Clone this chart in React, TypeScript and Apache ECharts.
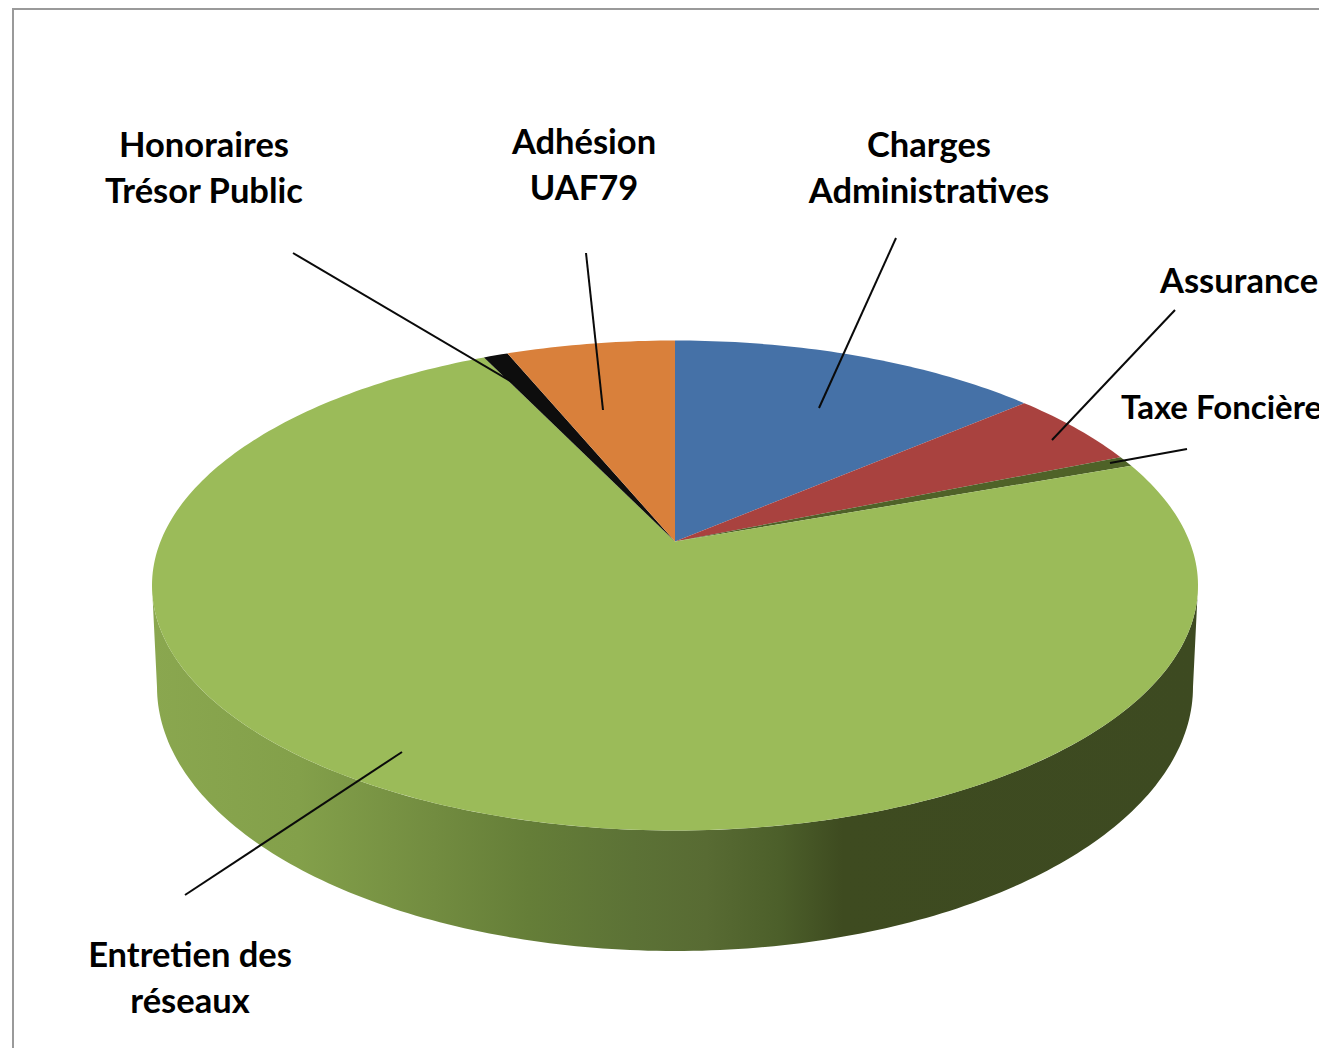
import React, { useEffect, useRef } from "react";
import * as echarts from "echarts";

const categories = ["Charges Administratives", "Assurance", "Taxe Foncière", "Entretien des réseaux", "Honoraires Trésor Public", "Adhésion UAF79"];
const shares = [13.7, 5.1, 0.7, 73.4, 0.9, 6.2];
const labelLines = [["Charges", "Administratives"], ["Assurance"], ["Taxe Foncière"], ["Entretien des", "réseaux"], ["Honoraires", "Trésor Public"], ["Adhésion", "UAF79"]];

const total = shares.reduce((a, b) => a + b, 0);
const sweep = (i: number) => {
  let s = 0;
  for (let k = 0; k < i; k++) s += shares[k];
  return [(s / total) * 360, ((s + shares[i]) / total) * 360];
};
const range = (a: number, b: number) => {
  const n = Math.max(2, Math.ceil(Math.abs(b - a)));
  return Array.from({ length: n + 1 }, (_, i) => a + ((b - a) * i) / n);
};

export default function App() {
  const ref = useRef<HTMLDivElement>(null);
  useEffect(() => {
    const chart = echarts.init(ref.current!, null, { renderer: "svg" });

    // styles and layout
    const sliceColors = ["#4571a7", "#a9423f", "#4f6228", "#9bbb59", "#0d0d0d", "#d9803b"];
    const wallStops: [number, string][] = [
      [0, "#8aa74f"], [0.14, "#83a04a"], [0.27, "#728c40"], [0.36, "#657e38"],
      [0.46, "#5c7236"], [0.53, "#586b33"], [0.6, "#4c5f2a"], [0.66, "#3e4b20"], [1, "#3d4a21"],
    ];
    const labelLayout = [
      { x: 929, y: 143.5, align: "center", size: 34.5 },
      { x: 1160, y: 279.5, align: "left", size: 34.5 },
      { x: 1121, y: 405.5, align: "left", size: 33 },
      { x: 190, y: 953.5, align: "center", size: 34.5 },
      { x: 204, y: 143.5, align: "center", size: 34.5 },
      { x: 584, y: 140.5, align: "center", size: 34.5 },
    ];
    const leaders = [
      [896, 238, 819, 408],
      [1175, 310, 1052, 440],
      [1187, 449, 1110, 463],
      [185, 895, 402, 752],
      [293, 253, 512, 382],
      [586, 253, 603, 410],
    ];

    // perspective disc
    const CX = 675, CY = 541.5, A = 514.5, B = 237.1, K = 0.1796;
    const project = (deg: number): number[] => {
      const t = (deg * Math.PI) / 180;
      const u = Math.sin(t), v = -Math.cos(t), w = 1 - K * v;
      return [CX + (A * u) / w, CY + (B * v) / w];
    };
    // lower rim of the disc
    const BCX = 675, BCY = 687, BRX = 518, BRY = 264;
    const rim = (deg: number): number[] => {
      const t = (deg * Math.PI) / 180;
      return [BCX + BRX * Math.sin(t), BCY - BRY * Math.cos(t)];
    };
    const TOP_FROM = 100.3, TOP_TO = 259.7;

    const graphics: any[] = [
      {
        type: "polyline",
        z: 1,
        shape: { points: [[13, 1048], [13, 9], [1319, 9]] },
        style: { stroke: "#9a9a9a", lineWidth: 2, fill: "none" },
      },
    ];
    leaders.forEach(([x1, y1, x2, y2]) =>
      graphics.push({
        type: "line",
        z: 50,
        shape: { x1, y1, x2, y2 },
        style: { stroke: "#0a0a0a", lineWidth: 2 },
      })
    );
    labelLines.forEach((lines, k) =>
      lines.forEach((text, i) =>
        graphics.push({
          type: "text",
          z: 60,
          x: labelLayout[k].x,
          y: labelLayout[k].y + i * 46,
          style: {
            text,
            font: `bold ${labelLayout[k].size}px Lato`,
            fill: "#000",
            align: labelLayout[k].align,
            verticalAlign: "middle",
          },
        })
      )
    );
    const seriesData = shares.map((v, i) => ({ name: categories[i], value: [v, i] }));
    chart.setOption({
      animation: false,
      backgroundColor: "#fff",
      graphic: { elements: graphics },
      series: [
        {
          type: "custom",
          name: "wall",
          coordinateSystem: "none",
          z: 2,
          silent: true,
          data: seriesData,
          renderItem: (_: any, api: any) => {
            const [a, b] = sweep(api.value(1));
            const lo = Math.max(a, TOP_FROM), hi = Math.min(b, TOP_TO);
            if (hi <= lo) return { type: "group", children: [] };
            const lo2 = Math.max(a, 90), hi2 = Math.min(b, 270);
            const pts = [...range(lo, hi).map(project), ...range(hi2, lo2).map(rim)];
            return {
              type: "polygon",
              shape: { points: pts },
              style: {
                fill: new echarts.graphic.LinearGradient(152, 0, 1198, 0, wallStops.map(([offset, color]) => ({ offset, color })), true),
              },
            };
          },
        },
        {
          type: "custom",
          name: "top",
          coordinateSystem: "none",
          z: 3,
          silent: true,
          data: seriesData,
          renderItem: (_: any, api: any) => {
            const i = api.value(1);
            const [a, b] = sweep(i);
            return {
              type: "polygon",
              shape: { points: [[CX, CY], ...range(a, b).map(project)] },
              style: { fill: sliceColors[i] },
            };
          },
        },
      ],
    });
    return () => chart.dispose();
  }, []);
  return <div ref={ref} style={{ position: "absolute", left: 0, top: 0, width: 1319, height: 1048 }} />;
}
